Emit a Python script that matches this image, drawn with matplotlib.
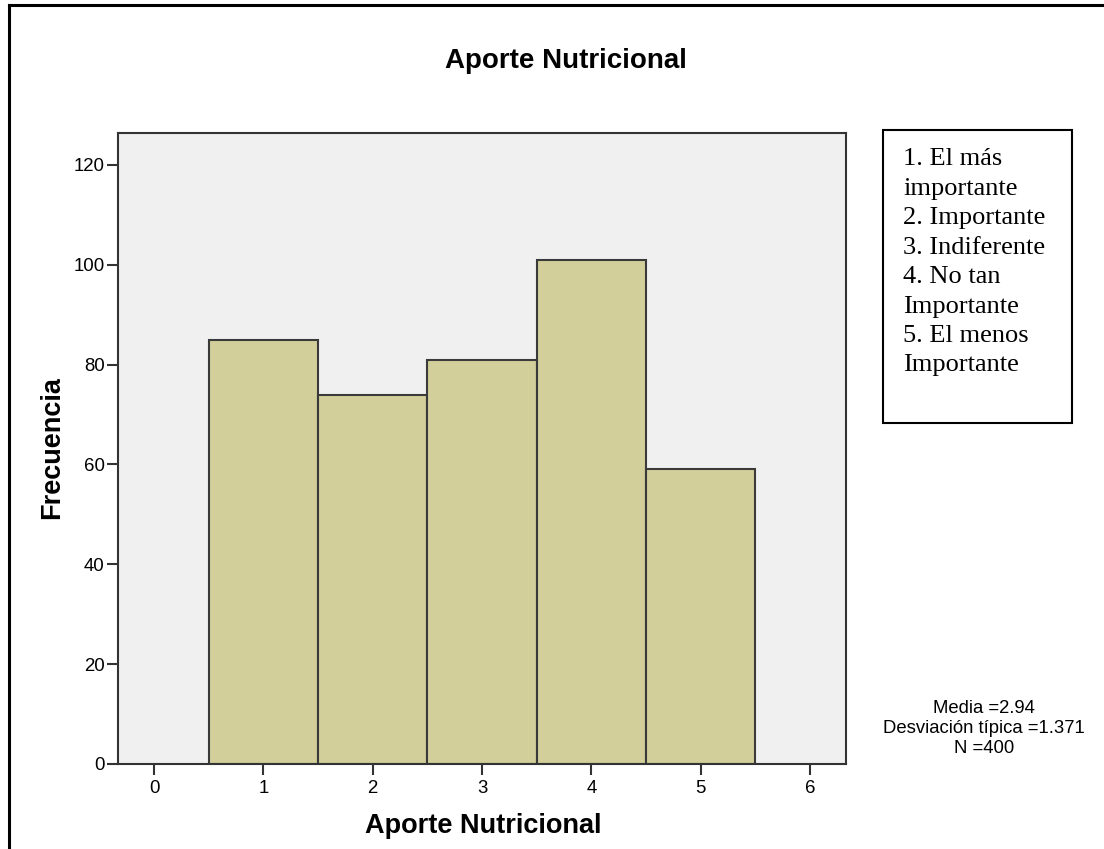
import matplotlib
matplotlib.use('Agg')
import matplotlib.pyplot as plt
from matplotlib.lines import Line2D
from matplotlib.patches import Rectangle

# data
categorias = [1, 2, 3, 4, 5]
frecuencias = [85, 74, 81, 101, 59]
xticks = [0, 1, 2, 3, 4, 5, 6]
yticks = [0, 20, 40, 60, 80, 100, 120]
leyenda = ["1. El más", "importante", "2. Importante", "3. Indiferente",
           "4. No tan", "Importante", "5. El menos", "Importante"]
estadisticos = ["Media =2.94", "Desviación típica =1.371", "N =400"]

plt.rcParams['font.family'] = ['Liberation Sans', 'DejaVu Sans']

fig = plt.figure(figsize=(11.04, 8.49), dpi=100)
W, H = 1104, 849

# outer frame (left and top edges only)
fig.add_artist(Line2D([9 / W, 9 / W], [0, 1 - 5 / H], color='black', lw=2.2))
fig.add_artist(Line2D([9 / W, 1], [1 - 5 / H, 1 - 5 / H], color='black', lw=2.2))

ax = fig.add_axes([118 / W, 1 - 764 / H, (846 - 118) / W, (764 - 133) / H])
ax.set_facecolor('#f0f0f0')
ax.bar(categorias, frecuencias, width=1.0, color='#d3cf9b',
       edgecolor='#3a3a3a', linewidth=1.5, zorder=2)

ax.set_xlim(-0.33, 6.33)
ax.set_ylim(0, 126.4)
ax.set_xticks(xticks)
ax.set_yticks(yticks)
ax.tick_params(axis='x', length=8, width=1.5, color='#333333', labelsize=13.4, pad=3.5)
ax.tick_params(axis='y', length=8, width=1.5, color='#333333', labelsize=13.4, pad=1.5)
for s in ax.spines.values():
    s.set_color('#333333')
    s.set_linewidth(1.5)

fig.text(483 / W, 1 - 833 / H, 'Aporte Nutricional', ha='center', va='baseline',
         fontsize=19.5, fontweight='bold')
fig.text(52 / W, 1 - 448 / H, 'Frecuencia', ha='center', va='center', rotation=90,
         fontsize=19.5, fontweight='bold')
fig.text(566 / W, 1 - 68 / H, 'Aporte Nutricional', ha='center', va='baseline',
         fontsize=20, fontweight='bold')

# legend box
fig.add_artist(Rectangle((883 / W, 1 - 423 / H), (1072 - 883) / W, (423 - 130) / H,
                         fill=False, edgecolor='black', lw=1.5, transform=fig.transFigure))
for i, linea in enumerate(leyenda):
    fig.text(903 / W, 1 - (165 + 29.5 * i) / H, linea, ha='left', va='baseline',
             fontsize=19, family=['Liberation Serif', 'DejaVu Serif'])

for i, linea in enumerate(estadisticos):
    fig.text(984 / W, 1 - (713 + 20 * i) / H, linea, ha='center', va='baseline',
             fontsize=13.3)

fig.savefig('out.png', dpi=100)
